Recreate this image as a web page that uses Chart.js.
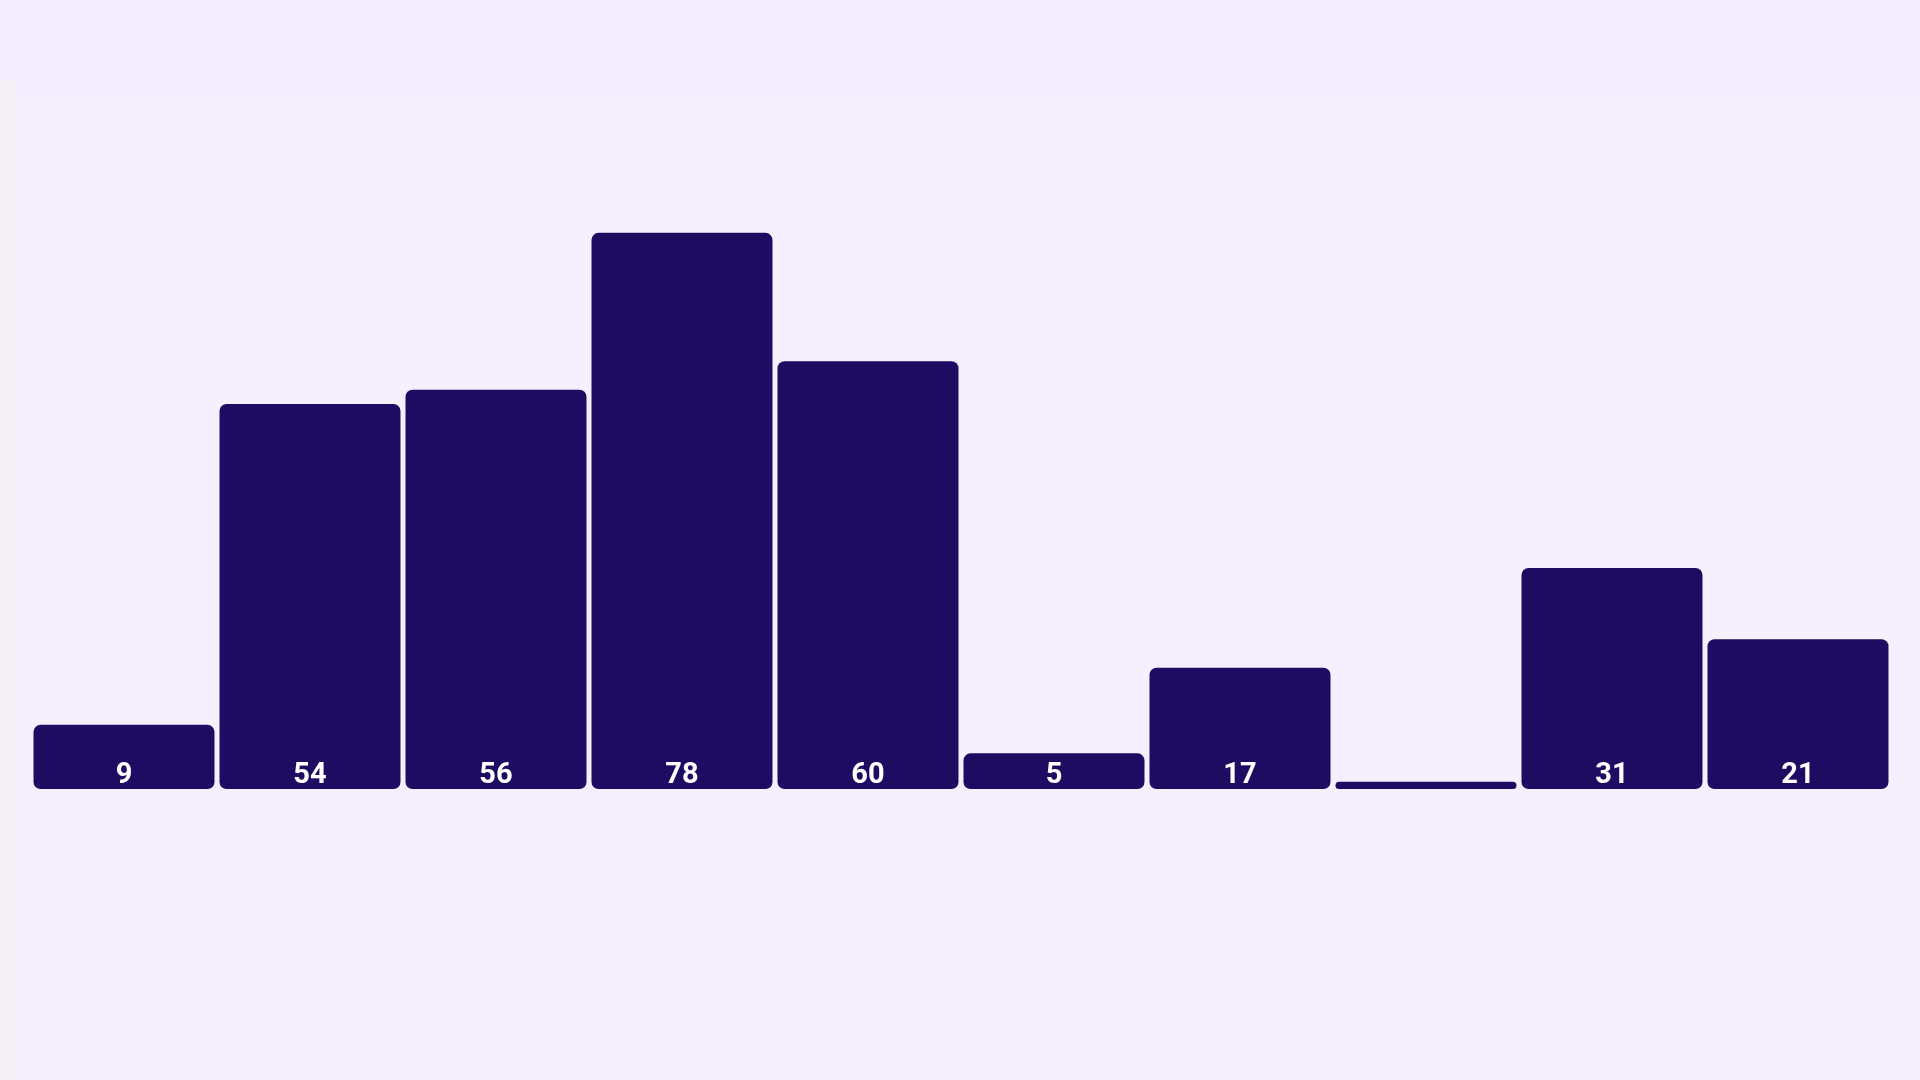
<!DOCTYPE html>
<html>
<head>
<meta charset="utf-8">
<script src="https://cdn.jsdelivr.net/npm/chart.js@4.4.1/dist/chart.umd.min.js"></script>
<style>
    html, body {
        margin: 0;
        padding: 0;
        width: 1920px;
        height: 1080px;
        overflow: hidden;
        background: #f5f0fe;
    }
    .topband {
        position: absolute;
        left: 0; top: 0;
        width: 1920px; height: 96px;
        background: #f2ecfd;
    }
    .leftstrip {
        position: absolute;
        left: 0; top: 80px;
        width: 16px; height: 1000px;
        background: #f4f2f6;
    }
    #wrap {
        position: absolute;
        left: 0; top: 0;
        width: 1920px; height: 1080px;
    }
</style>
</head>
<body>
<div class="topband"></div>
<div class="leftstrip"></div>
<div id="wrap"><canvas id="barChart"></canvas></div>

<script>
const categories = ["A", "B", "C", "D", "E", "F", "G", "H", "I", "J"];
const values = [9, 54, 56, 78, 60, 5, 17, 1, 31, 21];
const yMax = 100;

// white value labels sitting at the bottom of each bar
const insideLabels = {
    id: "insideLabels",
    afterDatasetsDraw(chart) {
        const ctx = chart.ctx;
        const meta = chart.getDatasetMeta(0);
        ctx.save();
        ctx.fillStyle = "#ffffff";
        ctx.font = "bold 29px Roboto";
        ctx.textAlign = "center";
        ctx.textBaseline = "alphabetic";
        meta.data.forEach((bar, i) => {
            const h = bar.base - bar.y;
            if (h < 25) return;   // too thin for a label
            ctx.fillText(String(values[i]), bar.x, bar.base - 6);
        });
        ctx.restore();
    }
};

const ctx = document.getElementById("barChart").getContext("2d");

new Chart(ctx, {
    type: "bar",
    data: {
        labels: categories,
        datasets: [{
            data: values,
            backgroundColor: "#1d0c62",
            borderRadius: 7,
            borderSkipped: false,
            categoryPercentage: 1,
            barPercentage: 0.973
        }]
    },
    options: {
        responsive: true,
        maintainAspectRatio: false,
        animation: false,
        layout: {
            padding: { left: 31, right: 29, top: 76, bottom: 291 }
        },
        plugins: {
            legend: { display: false },
            tooltip: { enabled: false }
        },
        scales: {
            x: { display: false },
            y: { display: false, min: 0, max: yMax }
        }
    },
    plugins: [insideLabels]
});
</script>
</body>
</html>
